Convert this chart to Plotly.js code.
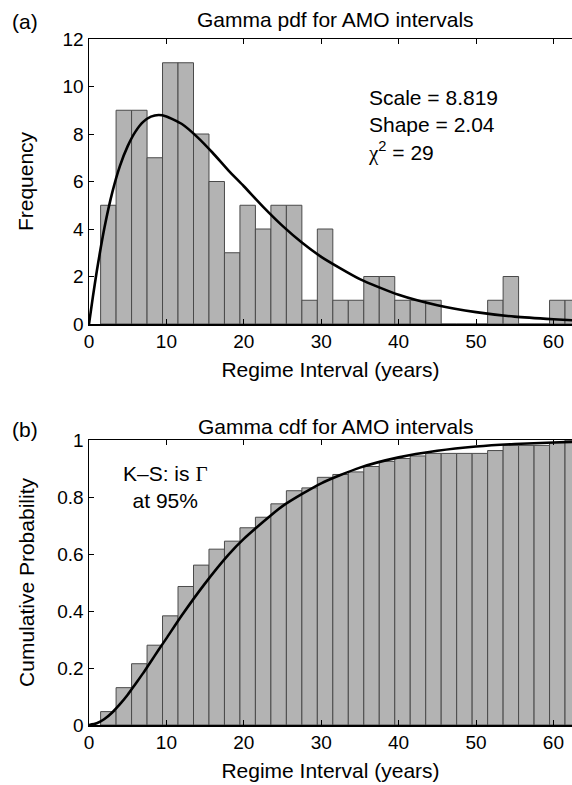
<!DOCTYPE html>
<html>
<head>
<meta charset="utf-8">
<script src="https://cdn.plot.ly/plotly-3.0.1.min.js"></script>
<style>html,body{margin:0;padding:0;background:#fff;overflow:hidden;}</style>
</head>
<body>
<div id="chart" style="width:572px;height:785px;"></div>
<script>
// Bin centres (years), bin width 2
const binCenters = [2.5,4.5,6.5,8.5,10.5,12.5,14.5,16.5,18.5,20.5,22.5,24.5,26.5,28.5,30.5,32.5,34.5,36.5,38.5,40.5,42.5,44.5,46.5,48.5,50.5,52.5,54.5,56.5,58.5,60.5,62.5];
// Frequency counts per bin (panel a)
const counts = [5,9,9,7,11,11,8,6,3,5,4,5,5,1,4,1,1,2,2,1,1,1,0,0,0,1,2,0,0,1,1];
// Cumulative probability per bin (panel b)
const cumProb = [0.047,0.131,0.215,0.280,0.383,0.486,0.561,0.617,0.645,0.692,0.729,0.776,0.822,0.832,0.869,0.879,0.888,0.907,0.925,0.935,0.944,0.953,0.953,0.953,0.953,0.963,0.981,0.981,0.981,0.991,1.0];
// Fitted gamma pdf curve (scaled to frequency)
const pdfX = [0,0.5,1,2,3,4,5,6,7,8,9,10,12,14,16,18,20,22.5,25,27.5,30,35,40,45,50,55,60,63];
const pdfY = [0,1.14,2.21,4.06,5.53,6.66,7.49,8.10,8.51,8.73,8.80,8.74,8.42,7.87,7.20,6.47,5.80,4.93,4.13,3.43,2.83,1.89,1.23,0.79,0.50,0.31,0.20,0.15];
// Fitted gamma cdf curve
const cdfX = [0,1,2,3,4,5,6,7,8,9,10,12,15,18,20,25,30,35,40,45,50,55,60,63];
const cdfY = [0,0.006,0.021,0.044,0.073,0.106,0.144,0.182,0.223,0.264,0.304,0.385,0.497,0.597,0.653,0.768,0.848,0.903,0.939,0.962,0.977,0.986,0.991,0.994];

const FONT = "'Liberation Sans', Arial, Helvetica, sans-serif";
const barMarker = {color:'#b3b3b3', line:{color:'#4a4a4a', width:1}};
const lineStyle = {color:'#000', width:2.6, shape:'spline', smoothing:0.6};

const traces = [
  {type:'bar', x:binCenters, y:counts, width:2, marker:barMarker, xaxis:'x', yaxis:'y', hoverinfo:'skip'},
  {type:'scatter', mode:'lines', x:pdfX, y:pdfY, line:lineStyle, xaxis:'x', yaxis:'y', hoverinfo:'skip'},
  {type:'bar', x:binCenters, y:cumProb, width:2, marker:barMarker, xaxis:'x2', yaxis:'y2', hoverinfo:'skip'},
  {type:'scatter', mode:'lines', x:cdfX, y:cdfY, line:lineStyle, xaxis:'x2', yaxis:'y2', hoverinfo:'skip'}
];

const H = 785, L = 89, W = 572;
const px2py = p => 1 - p/H;
const px2px = p => (p - L)/(W - L);
const TF = 21;

const xBase = {
  range:[0,62.4], dtick:10, tick0:0, ticks:'inside', ticklen:5, tickwidth:1, tickcolor:'#000',
  showline:true, linecolor:'#000', linewidth:1.5, mirror:'ticks', showgrid:false, zeroline:false,
  tickfont:{family:FONT, size:19, color:'#000'},
  title:{text:'Regime Interval (years)', font:{family:FONT, size:TF, color:'#000'}, standoff:11}
};
const yBase = {
  ticks:'inside', ticklen:5, tickwidth:1, tickcolor:'#000',
  showline:true, linecolor:'#000', linewidth:1.5, mirror:false, showgrid:false, zeroline:false,
  tickfont:{family:FONT, size:19, color:'#000'}
};

const layout = {
  width:W, height:H, margin:{l:L, r:0, t:0, b:0},
  paper_bgcolor:'#fff', plot_bgcolor:'#fff', showlegend:false, bargap:0,
  font:{family:FONT, color:'#000'},
  xaxis: Object.assign({}, xBase, {domain:[0,1], anchor:'y'}),
  yaxis: Object.assign({}, yBase, {domain:[px2py(324), px2py(39)], anchor:'x', range:[0,12], dtick:2,
    title:{text:'Frequency', font:{family:FONT, size:TF, color:'#000'}, standoff:23}}),
  xaxis2: Object.assign({}, xBase, {domain:[0,1], anchor:'y2'}),
  yaxis2: Object.assign({}, yBase, {domain:[px2py(725), px2py(440)], anchor:'x2', range:[0,1], dtick:0.2,
    title:{text:'Cumulative Probability', font:{family:FONT, size:TF, color:'#000'}, standoff:17}}),
  annotations:[
    {xref:'paper', yref:'paper', x:px2px(335), y:px2py(20), text:'Gamma pdf for AMO intervals', showarrow:false, xanchor:'center', yanchor:'middle', font:{family:FONT, size:TF, color:'#000'}},
    {xref:'paper', yref:'paper', x:px2px(335), y:px2py(426), text:'Gamma cdf for AMO intervals', showarrow:false, xanchor:'center', yanchor:'middle', font:{family:FONT, size:TF, color:'#000'}},
    {xref:'paper', yref:'paper', x:px2px(25), y:px2py(22), text:'(a)', showarrow:false, xanchor:'center', yanchor:'middle', font:{family:FONT, size:TF, color:'#000'}},
    {xref:'paper', yref:'paper', x:px2px(25), y:px2py(429), text:'(b)', showarrow:false, xanchor:'center', yanchor:'middle', font:{family:FONT, size:TF, color:'#000'}},
    {xref:'x', yref:'y', x:35.8, y:8.35, align:'left',
      text:'Scale = 8.819<br>Shape = 2.04<br><span style="font-family:\'Liberation Serif\', serif">χ</span><sup>2</sup> = 29',
      showarrow:false, xanchor:'left', yanchor:'middle', font:{family:FONT, size:TF, color:'#000'}},
    {xref:'x2', yref:'y2', x:9.92, y:0.835, align:'center',
      text:'K–S: is <span style="font-family:\'Liberation Serif\', serif">Γ</span><br>at 95%',
      showarrow:false, xanchor:'center', yanchor:'middle', font:{family:FONT, size:TF, color:'#000'}}
  ]
};

Plotly.newPlot('chart', traces, layout, {staticPlot:true, displayModeBar:false});
</script>
</body>
</html>
